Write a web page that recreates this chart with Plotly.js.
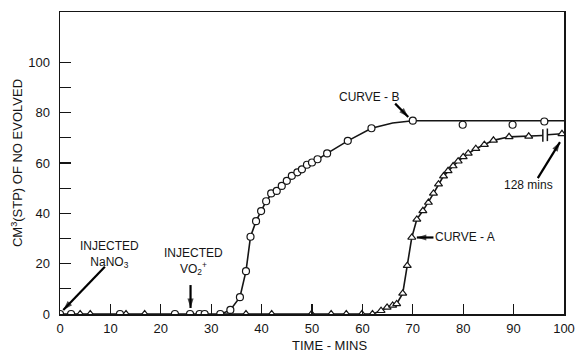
<!DOCTYPE html>
<html>
<head>
<meta charset="utf-8">
<script src="https://cdn.plot.ly/plotly-3.0.1.min.js"></script>
<style>html,body{margin:0;padding:0;background:#fff;}#chart{width:575px;height:355px;}</style>
</head>
<body>
<div id="chart"></div>
<script>
// Curve B (open circles)
const curveB_x = [0, 2.2, 11.9, 22.8, 25.8, 27.7, 28.7, 31.8, 33.8, 35.7, 36.9, 37.8, 38.9, 39.9, 40.9, 41.9, 43.0, 44.0, 45.0, 46.0, 47.1, 48.0, 49.0, 50.0, 51.1, 53.0, 57.1, 61.8, 70.0, 79.9, 89.8, 96.1];
const curveB_y = [0, 0, 0, 0, 0, 0, 0, 0, 1.6, 6.7, 17, 30.7, 36.9, 40.9, 44.8, 47.9, 48.9, 50.9, 52.9, 54.9, 56.3, 57.5, 59.3, 60.2, 61.5, 63.8, 68.8, 73.8, 76.8, 75.2, 75.2, 76.5];
// Curve B fitted line
const lineB_x = [32, 33.8, 35.7, 36.9, 37.8, 38.9, 39.9, 40.9, 42.0, 44.0, 46.0, 48.0, 50.0, 53.0, 57.1, 61.8, 66.0, 70.0, 100];
const lineB_y = [0, 1.6, 6.7, 17, 30.7, 36.9, 40.9, 44.8, 47.9, 50.9, 54.9, 57.5, 60.2, 63.8, 68.8, 73.8, 75.9, 76.8, 76.8];
// Curve A (open triangles)
const curveA_x = [4.0, 6.0, 13.1, 16.8, 36.9, 42.0, 49.9, 53.8, 56.8, 59.9, 62.0, 63.7, 64.9, 66.0, 66.8, 68.0, 68.9, 69.8, 70.8, 72.0, 73.1, 74.1, 75.1, 76.1, 77.0, 78.0, 79.0, 80.0, 81.0, 82.5, 84.2, 86.0, 89.1, 93.0, 99.6];
const curveA_y = [0, 0, 0, 0, 0, 0, 0, 0, 0, 0, 0, 1.3, 2.6, 3.4, 4.0, 8.2, 19.2, 30.4, 37.6, 41.0, 44.3, 47.9, 51.6, 54.8, 56.9, 58.8, 60.7, 62.4, 63.8, 65.7, 67.3, 69.0, 70.4, 70.6, 71.6];
// Curve A fitted line (broken near 96 min: time axis break to 128 mins)
const lineA_x = [0, 62.0, 63.7, 64.9, 66.0, 66.8, 68.0, 68.9, 69.8, 70.8, 72.0, 74.0, 76.0, 78.0, 80.0, 82.5, 84.2, 86.0, 89.1, 93.0, 95.8, null, 96.7, 99.6];
const lineA_y = [0, 0, 1.3, 2.6, 3.4, 4.0, 8.2, 19.2, 30.4, 37.6, 41.0, 47.5, 54.5, 58.8, 62.4, 65.7, 67.3, 69.0, 70.4, 70.6, 70.9, null, 71.2, 71.6];
const breakA_x = [95.8, 96.7];
const breakA_y = [70.9, 71.2];
// axis ticks
const xTickVals = [0, 10, 20, 30, 40, 50, 60, 70, 80, 90, 100];
const yTickVals = [0, 20, 40, 60, 80, 100];
const yMinorVals = [10, 30, 50, 70, 90];
// labels and their pointer arrows (tail -> head, in axis units)
const labelText = ['INJECTED<br>NaNO<sub>3</sub>', 'INJECTED<br>VO<sub>2</sub><sup>+</sup>', 'CURVE - B', 'CURVE - A', '128 mins'];
const labelX = [9.9, 26.4, 61.3, 80.4, 92.9];
const labelY = [23.6, 21.0, 86.2, 30.4, 51.2];
const arrowTailX = [8.9, 25.9, 66.5, 74.1, 94.8];
const arrowTailY = [18.8, 11.5, 83.6, 30.4, 54.0];
const arrowHeadX = [0.65, 25.9, 69.1, 70.8, 99.2];
const arrowHeadY = [1.6, 2.4, 78.3, 30.4, 68.3];

const INK = '#151515';
const FONT = 'Liberation Sans, Arial, sans-serif';

const traces = [
  {x: lineA_x, y: lineA_y, mode: 'lines', line: {color: INK, width: 1.6}, hoverinfo: 'skip', showlegend: false},
  {x: lineB_x, y: lineB_y, mode: 'lines', line: {color: INK, width: 1.6}, hoverinfo: 'skip', showlegend: false},
  {x: breakA_x, y: breakA_y, mode: 'markers', marker: {symbol: 'line-ns', size: 9, line: {color: INK, width: 1.5}}, showlegend: false},
  {x: curveA_x, y: curveA_y, mode: 'markers', name: 'Curve A',
   marker: {symbol: 'triangle-up', size: 7, color: '#fff', line: {color: INK, width: 1.2}}, showlegend: false},
  {x: curveB_x, y: curveB_y, mode: 'markers', name: 'Curve B',
   marker: {symbol: 'circle', size: 7, color: '#fff', line: {color: INK, width: 1.2}}, showlegend: false}
];

// pointer arrows: straight shafts with arrow-head markers at the tips
arrowTailX.forEach((_, i) => {
  traces.push({x: [arrowTailX[i], arrowHeadX[i]], y: [arrowTailY[i], arrowHeadY[i]],
    mode: 'lines+markers', line: {color: '#000', width: 2.2, simplify: false},
    marker: {symbol: 'arrow', angleref: 'previous', size: [0, 10], color: '#000', line: {width: 0}},
    hoverinfo: 'skip', showlegend: false, cliponaxis: false});
});

const annotations = labelText.map((t, i) => ({text: t, x: labelX[i], y: labelY[i], xref: 'x', yref: 'y',
  showarrow: false, font: {family: FONT, size: 12, color: INK}}));
annotations.push({text: 'TIME - MINS', xref: 'x', yref: 'paper', x: 53.4, y: -0.103, yanchor: 'middle', showarrow: false,
  font: {family: FONT, size: 13, color: INK}});

const layout = {
  width: 575, height: 355,
  margin: {l: 60, r: 11, t: 12, b: 41},
  paper_bgcolor: '#fff', plot_bgcolor: '#fff',
  font: {family: FONT, size: 13, color: INK},
  showlegend: false,
  xaxis: {
    range: [0, 100], showgrid: false, zeroline: false,
    showline: true, mirror: true, linecolor: INK, linewidth: 1.5,
    tickmode: 'array', tickvals: xTickVals, ticks: 'inside', ticklen: 10, tickwidth: 1.3, tickcolor: INK,
    ticklabelstandoff: 2,
    tickfont: {family: FONT, size: 13, color: INK}
  },
  yaxis: {
    range: [0, 120], showgrid: false, zeroline: false,
    showline: true, mirror: true, linecolor: INK, linewidth: 1.5,
    tickmode: 'array', tickvals: yTickVals, ticks: 'inside', ticklen: 11, tickwidth: 1.3, tickcolor: INK,
    ticklabelstandoff: 6,
    tickfont: {family: FONT, size: 13, color: INK},
    minor: {tickmode: 'array', tickvals: yMinorVals, ticks: 'inside', ticklen: 11, tickwidth: 1.3, tickcolor: INK, showgrid: false},
    title: {text: 'CM<sup>3</sup>(STP) OF NO EVOLVED', font: {family: FONT, size: 13, color: INK}, standoff: 2}
  },
  annotations: annotations
};

Plotly.newPlot('chart', traces, layout, {displayModeBar: false, staticPlot: true});
</script>
</body>
</html>
